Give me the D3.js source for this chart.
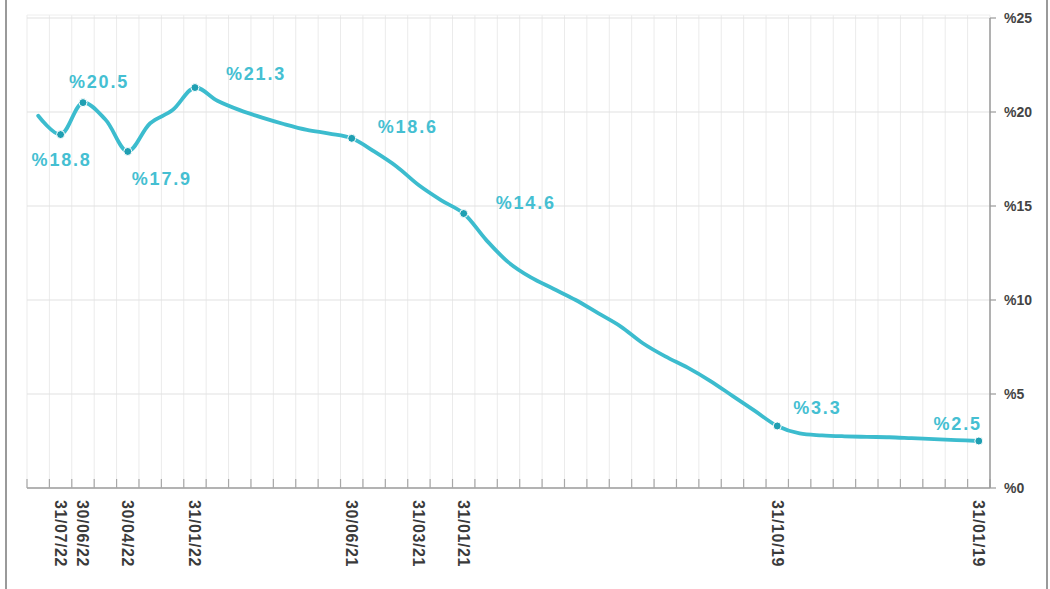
<!DOCTYPE html>
<html>
<head>
<meta charset="utf-8">
<script src="https://cdn.jsdelivr.net/npm/d3@7"></script>
<style>
  body { margin: 0; background: #fff; }
  svg { display: block; }
</style>
</head>
<body>
<svg id="chart" width="1050" height="589"></svg>
<script>
// month-end dates, newest first (chart runs right-to-left in time)
const dates = [
  '31/08/22', '31/07/22', '30/06/22', '31/05/22', '30/04/22', '31/03/22', '28/02/22', '31/01/22',
  '31/12/21', '30/11/21', '31/10/21', '30/09/21', '31/08/21', '31/07/21', '30/06/21', '31/05/21',
  '30/04/21', '31/03/21', '28/02/21', '31/01/21', '31/12/20', '30/11/20', '31/10/20', '30/09/20',
  '31/08/20', '31/07/20', '30/06/20', '31/05/20', '30/04/20', '31/03/20', '31/01/20', '31/12/19',
  '30/11/19', '31/10/19', '30/09/19', '31/08/19', '31/07/19', '30/06/19', '31/05/19', '30/04/19',
  '31/03/19', '28/02/19', '31/01/19'
];

const rates = [
  19.8, 18.8, 20.5, 19.6, 17.9, 19.4, 20.1, 21.3,
  20.6, 20.1, 19.7, 19.35, 19.05, 18.85, 18.6, 17.9,
  17.1, 16.1, 15.3, 14.6, 13.2, 12.0, 11.2, 10.6,
  10.0, 9.3, 8.6, 7.7, 7.0, 6.4, 5.7, 4.9,
  4.1, 3.3, 2.9, 2.8, 2.75, 2.72, 2.7, 2.65,
  2.6, 2.55, 2.5
];

const tickLabels = ['31/07/22', '30/06/22', '30/04/22', '31/01/22', '30/06/21', '31/03/21', '31/01/21', '31/10/19', '31/01/19'];
const yTicks = [0, 5, 10, 15, 20, 25];

// highlighted points: label text comes from the value
const highlighted = ['31/07/22', '30/06/22', '30/04/22', '31/01/22', '30/06/21', '31/01/21', '31/10/19', '31/01/19'];

const lineColor = '#3cbcce';
const dotColor = '#1f9fb2';

const svg = d3.select('svg#chart');

const x = d3.scaleBand()
  .domain(dates)
  .range([27, 990]);

const y = d3.scaleLinear()
  .domain([0, 25])
  .range([488, 18]);

// outer frame (left / right rules)
svg.append('line').attr('x1', 6).attr('x2', 6).attr('y1', 0).attr('y2', 589)
  .attr('stroke', '#9a9a9a').attr('stroke-width', 2);
svg.append('line').attr('x1', 1047).attr('x2', 1047).attr('y1', 0).attr('y2', 589)
  .attr('stroke', '#9a9a9a').attr('stroke-width', 2);

// vertical grid at band edges
const edges = dates.map((d) => x(d)).concat([x.range()[1]]);
svg.append('g').selectAll('line.vgrid').data(edges).enter()
  .append('line')
  .attr('class', 'vgrid')
  .attr('x1', (d) => d).attr('x2', (d) => d)
  .attr('y1', 15).attr('y2', 488)
  .attr('stroke', '#ebebeb').attr('stroke-width', 1);

// horizontal grid
svg.append('g').selectAll('line.hgrid').data(yTicks.slice(1)).enter()
  .append('line')
  .attr('class', 'hgrid')
  .attr('x1', 27).attr('x2', 990)
  .attr('y1', (d) => y(d)).attr('y2', (d) => y(d))
  .attr('stroke', '#e2e2e2').attr('stroke-width', 1.2);
svg.append('line').attr('x1', 27).attr('x2', 990).attr('y1', 15).attr('y2', 15)
  .attr('stroke', '#eeeeee');

// bottom axis: line + small upward ticks at band edges
const xAxis = svg.append('g');
xAxis.append('line').attr('x1', 27).attr('x2', 990).attr('y1', 488).attr('y2', 488)
  .attr('stroke', '#9a9a9a').attr('stroke-width', 1.5);
xAxis.selectAll('line.tick').data(edges).enter()
  .append('line')
  .attr('class', 'tick')
  .attr('x1', (d) => d).attr('x2', (d) => d)
  .attr('y1', 479).attr('y2', 488)
  .attr('stroke', '#a8a8a8').attr('stroke-width', 1.2);
xAxis.selectAll('text').data(tickLabels).enter()
  .append('text')
  .attr('transform', (d) => `translate(${x(d) + x.bandwidth() / 2} 500) rotate(90)`)
  .attr('dominant-baseline', 'central')
  .attr('font-family', 'Liberation Sans, Arial, sans-serif')
  .attr('font-size', '16px')
  .attr('font-weight', 'bold')
  .attr('letter-spacing', '0.6px')
  .attr('fill', '#3a3a3a')
  .text((d) => d);

// right axis
const yAxis = svg.append('g');
yAxis.append('line').attr('x1', 990).attr('x2', 990).attr('y1', 18).attr('y2', 488)
  .attr('stroke', '#9a9a9a').attr('stroke-width', 1.5);
yAxis.selectAll('line.tick').data(yTicks).enter()
  .append('line')
  .attr('class', 'tick')
  .attr('x1', 990).attr('x2', 996)
  .attr('y1', (d) => y(d)).attr('y2', (d) => y(d))
  .attr('stroke', '#9a9a9a').attr('stroke-width', 1.2);
yAxis.selectAll('text').data(yTicks).enter()
  .append('text')
  .attr('x', 1004)
  .attr('y', (d) => y(d))
  .attr('dominant-baseline', 'central')
  .attr('font-family', 'Liberation Sans, Arial, sans-serif')
  .attr('font-size', '14px')
  .attr('font-weight', 'bold')
  .attr('fill', '#444')
  .text((d) => '%' + d);

// the line
const points = dates.map((d, i) => ({ date: d, value: rates[i] }));
const line = d3.line()
  .x((d) => x(d.date) + x.bandwidth() / 2)
  .y((d) => y(d.value))
  .curve(d3.curveCatmullRom.alpha(0.5));

svg.append('path')
  .datum(points)
  .attr('d', line)
  .attr('fill', 'none')
  .attr('stroke', lineColor)
  .attr('stroke-width', 3.8)
  .attr('stroke-linejoin', 'round')
  .attr('stroke-linecap', 'round');

// label placement for each highlighted point
const placement = {
  '31/07/22': { dx: 1, dy: 25, anchor: 'middle' },
  '30/06/22': { dx: -14, dy: -21, anchor: 'start' },
  '30/04/22': { dx: 4, dy: 28, anchor: 'start' },
  '31/01/22': { dx: 31, dy: -14, anchor: 'start' },
  '30/06/21': { dx: 26, dy: -11, anchor: 'start' },
  '31/01/21': { dx: 32, dy: -11, anchor: 'start' },
  '31/10/19': { dx: 16, dy: -18, anchor: 'start' },
  '31/01/19': { dx: 3, dy: -17, anchor: 'end' }
};

const marks = svg.append('g').selectAll('g.mark')
  .data(points.filter((p) => highlighted.includes(p.date)))
  .enter()
  .append('g')
  .attr('class', 'mark')
  .attr('transform', (d) => `translate(${x(d.date) + x.bandwidth() / 2} ${y(d.value)})`);

marks.append('circle')
  .attr('r', 4)
  .attr('fill', dotColor)
  .attr('stroke', '#fff')
  .attr('stroke-width', 1);

marks.append('text')
  .attr('x', (d) => placement[d.date].dx)
  .attr('y', (d) => placement[d.date].dy)
  .attr('text-anchor', (d) => placement[d.date].anchor)
  .attr('dominant-baseline', 'central')
  .attr('font-family', 'Liberation Sans, Arial, sans-serif')
  .attr('font-size', '18px')
  .attr('font-weight', 'bold')
  .attr('letter-spacing', '1.8px')
  .attr('fill', '#45bfd2')
  .text((d) => '%' + d3.format('.1f')(d.value));
</script>
</body>
</html>
